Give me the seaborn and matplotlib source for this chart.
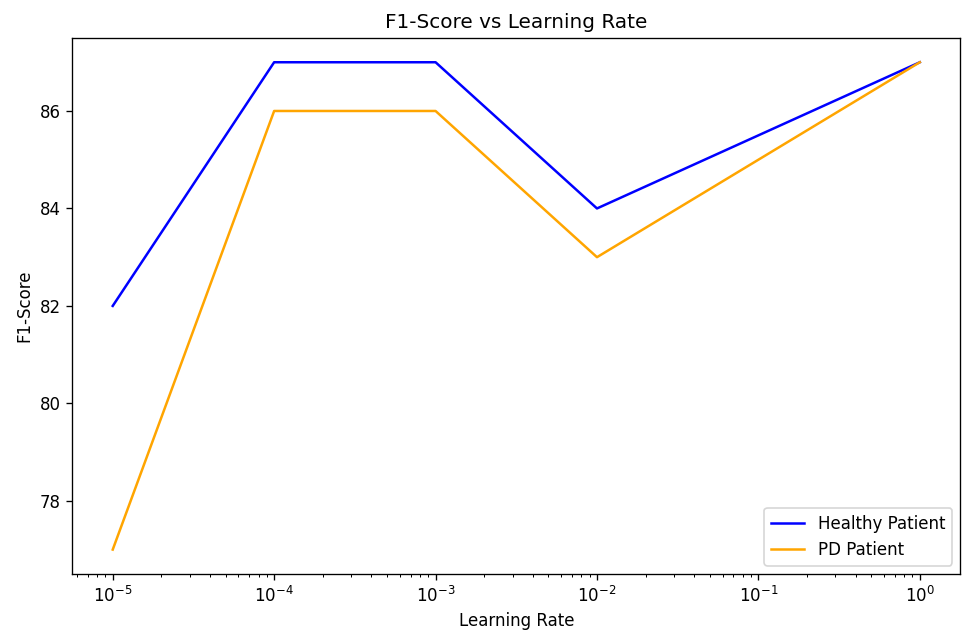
import pandas as pd
import matplotlib.pyplot as plt
import seaborn as sns

learning_rates = [1e-5, 1e-4, 1e-3, 1e-2, 1e0]
healthy_f1 = [82, 87, 87, 84, 87]
pd_f1 = [77, 86, 86, 83, 87]

df = pd.DataFrame({
    "Learning Rate": learning_rates * 2,
    "F1-Score": healthy_f1 + pd_f1,
    "Group": ["Healthy Patient"] * len(healthy_f1) + ["PD Patient"] * len(pd_f1),
})

fig, ax = plt.subplots(figsize=(965 / 120, 642 / 120), dpi=120)
fig.subplots_adjust(left=0.075, right=0.995, top=0.941, bottom=0.106)

sns.lineplot(
    data=df, x="Learning Rate", y="F1-Score", hue="Group",
    palette={"Healthy Patient": "blue", "PD Patient": "orange"},
    ax=ax,
)
ax.set_xscale("log")
ax.set_title("F1-Score vs Learning Rate")
ax.set_xlabel("Learning Rate")
ax.set_ylabel("F1-Score")
ax.legend(loc="lower right")

plt.savefig("out.png", dpi=120)
